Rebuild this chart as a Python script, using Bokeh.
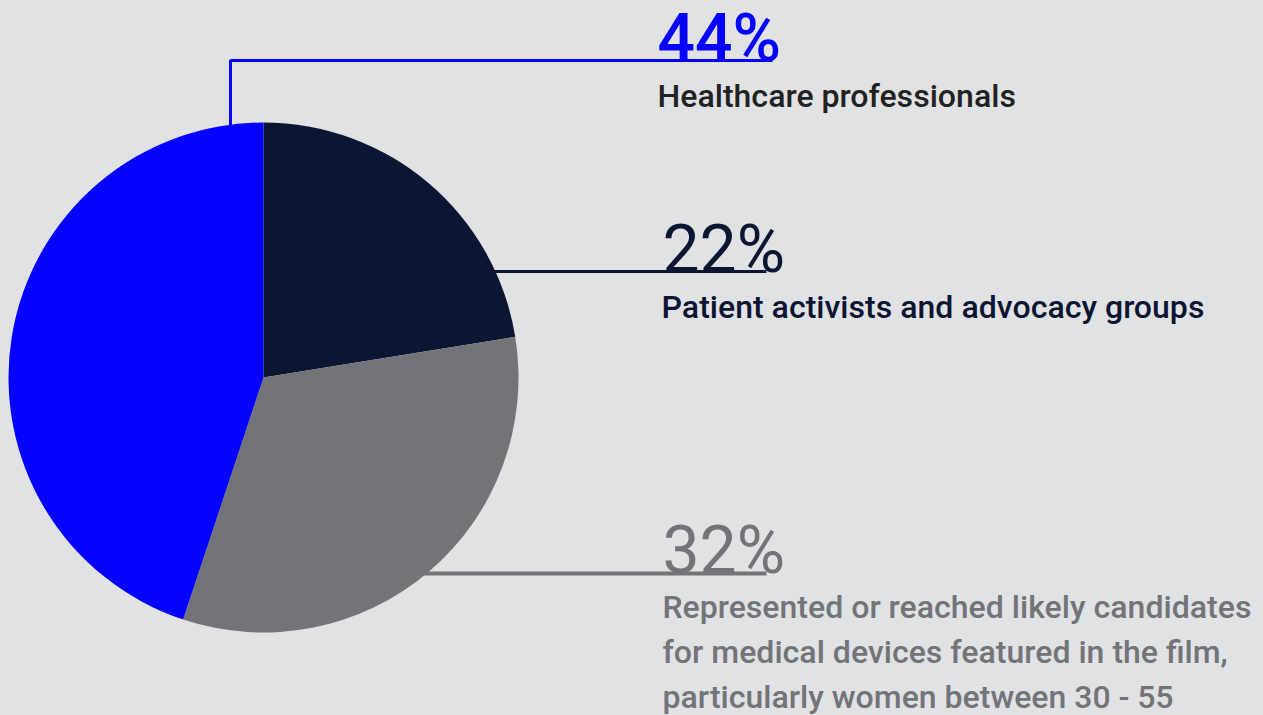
import numpy as np
from bokeh.plotting import figure
from bokeh.models import Range1d, ColumnDataSource
from bokeh.core.properties import value
from bokeh.embed import file_html
from bokeh.resources import INLINE

# ---------------- data ----------------
categories = ["Patient activists and advocacy groups",
              "Represented or reached likely candidates",
              "Healthcare professionals"]
values = [22, 32, 44]
pct_labels = ["22%", "32%", "44%"]
slice_colors = ["#0c1633", "#737478", "#0500ff"]
text_colors = ["#0c1633", "#737478", "#222222"]
desc_lines = [
    ["Patient activists and advocacy groups"],
    ["Represented or reached likely candidates",
     "for medical devices featured in the film,",
     "particularly women between 30 - 55"],
    ["Healthcare professionals"],
]

# ---------------- layout ----------------
W, H = 1263, 715
BG = "#e1e2e4"
FONT = value("Roboto")
FONT_MED = value("Roboto Medium")

def X(px):
    return px

def Y(py):
    return H - py

cx, cy, R = X(263), Y(377), 255

p = figure(width=W, height=H, output_backend="svg", toolbar_location=None,
           x_range=Range1d(0, W), y_range=Range1d(0, H), min_border=0)
p.axis.visible = False
p.grid.visible = False
p.outline_line_color = None
p.background_fill_color = BG
p.border_fill_color = BG

vals = np.array(values, dtype=float)
frac = vals / vals.sum() * 2 * np.pi
cum_end = np.cumsum(frac)
cum_start = cum_end - frac
# clockwise from 12 o'clock
start_angle = np.pi / 2 - cum_end
end_angle = np.pi / 2 - cum_start

def edge_x(py):
    dy = Y(py) - cy
    return cx + np.sqrt(R ** 2 - dy ** 2)

line_end = X(766)
# leader lines (drawn under the pie)
p.line([edge_x(271) - 4, line_end], [Y(271), Y(271)], line_color=slice_colors[0], line_width=3)
p.line([edge_x(573) - 4, line_end], [Y(573), Y(573)], line_color=slice_colors[1], line_width=4)
bx = X(230)
btop = cy + np.sqrt(R ** 2 - (bx - cx) ** 2)
p.line([bx, bx, X(772)], [btop - 4, Y(60), Y(60)], line_color=slice_colors[2], line_width=3)

src = ColumnDataSource(dict(x=[cx] * len(values), y=[cy] * len(values),
                            start=start_angle, end=end_angle, color=slice_colors,
                            cat=categories))
p.wedge(x="x", y="y", radius=R, start_angle="start", end_angle="end",
        fill_color="color", line_color=None, source=src)

# percentage labels
pct_x = [X(662), X(662), X(657)]
pct_y = [Y(249), Y(550), Y(38)]
pct_font = [FONT, FONT, FONT_MED]
for i in range(len(values)):
    p.text(x=[pct_x[i]], y=[pct_y[i]], text=[pct_labels[i]], text_color=slice_colors[i],
           text_font=pct_font[i], text_font_size="66px", text_font_style="normal",
           text_baseline="alphabetic", text_align="left")

# description labels
desc_x = [X(661), X(662), X(657)]
desc_y0 = [Y(306), Y(606), Y(95)]
for i in range(len(values)):
    for j, line in enumerate(desc_lines[i]):
        p.text(x=[desc_x[i]], y=[desc_y0[i] - 45 * j], text=[line], text_color=text_colors[i],
               text_font=FONT_MED, text_font_size="32px", text_font_style="normal",
               text_baseline="alphabetic", text_align="left")

html = file_html(p, INLINE)
html = html.replace("<head>", "<head><style>html,body{background:%s;}</style>" % BG, 1)
open("out.html", "w").write(html)
